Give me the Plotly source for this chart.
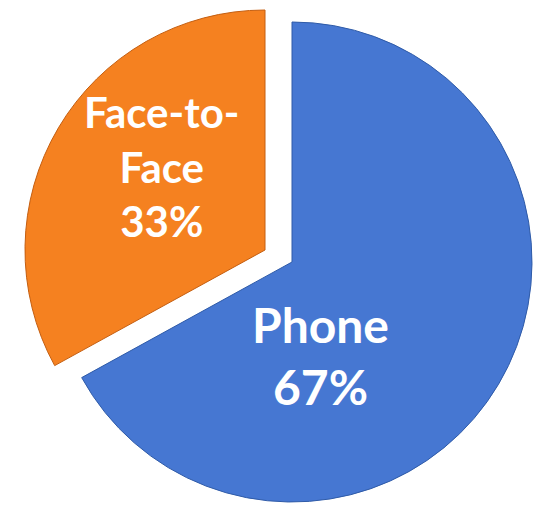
import plotly.graph_objects as go

labels = ["Phone", "Face-to-Face"]
values = [67, 33]
display = ["Phone", "Face-to-<br>Face"]
colors = ["#4677D2", "#F58120"]
edge = ["#2F5BA8", "#C45E10"]

W, H = 533, 507

def dom(cx, cy, r):
    return dict(x=[(cx - r) / W, (cx + r) / W], y=[1 - (cy + r) / H, 1 - (cy - r) / H])

fig = go.Figure()
# main slice (Phone) in place
fig.add_trace(go.Pie(
    labels=labels, values=values, sort=False, direction="clockwise", rotation=0,
    textinfo="none",
    marker=dict(colors=[colors[0], "rgba(0,0,0,0)"],
                line=dict(color=[edge[0], "rgba(0,0,0,0)"], width=1)),
    domain=dom(292, 262, 240), showlegend=False, hoverinfo="label+percent",
))
# exploded slice (Face-to-Face), shifted up-left
fig.add_trace(go.Pie(
    labels=labels, values=values, sort=False, direction="clockwise", rotation=0,
    textinfo="none",
    marker=dict(colors=["rgba(0,0,0,0)", colors[1]],
                line=dict(color=["rgba(0,0,0,0)", edge[1]], width=1)),
    domain=dom(265, 250, 240), showlegend=False, hoverinfo="label+percent",
))

# data labels (text derived from the data)
total = sum(values)
label_pos = [(320, 355), (161, 166)]
label_size = [48, 42]
for name, v, (lx, ly), sz in zip(display, values, label_pos, label_size):
    fig.add_annotation(
        x=lx / W, y=1 - ly / H, xref="paper", yref="paper",
        xanchor="center", yanchor="middle", showarrow=False,
        text=f"{name}<br>{round(v / total * 100)}%",
        font=dict(family="Lato", size=sz, color="white", weight="bold"),
    )

fig.update_layout(width=W, height=H, margin=dict(l=0, r=0, t=0, b=0),
                  paper_bgcolor="white", plot_bgcolor="white")
fig.write_html("out.html")
